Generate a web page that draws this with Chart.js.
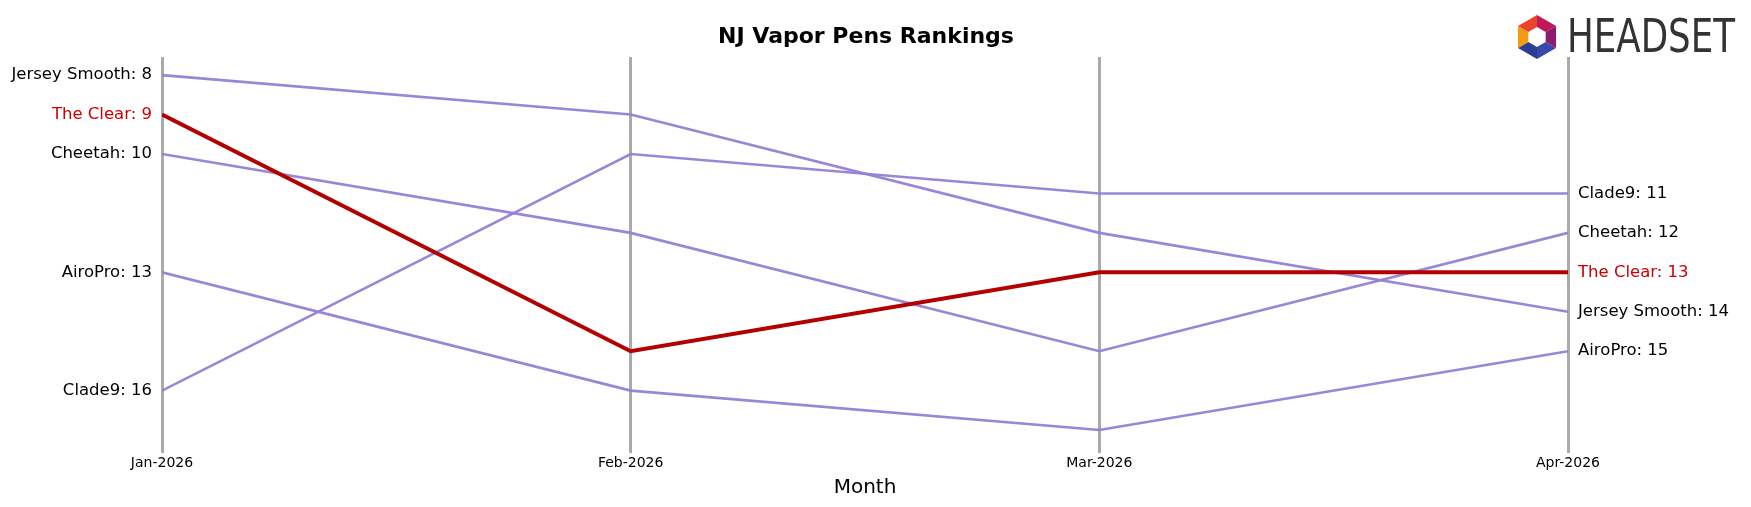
<!DOCTYPE html>
<html>
<head>
<meta charset="utf-8">
<script src="https://cdn.jsdelivr.net/npm/chart.js@4/dist/chart.umd.min.js"></script>
<style>
  html, body { margin: 0; padding: 0; background: #fff; }
  #wrap { width: 1751px; height: 507px; }
</style>
</head>
<body>
<div id="wrap"><canvas id="c" width="1751" height="507"></canvas></div>
<script>
// 月份与各品牌排名
const months = ['Jan-2026', 'Feb-2026', 'Mar-2026', 'Apr-2026'];
const brands = ['Jersey Smooth', 'The Clear', 'Cheetah', 'AiroPro', 'Clade9'];
const jerseySmooth = [8, 9, 12, 14];
const theClear = [9, 15, 13, 13];
const cheetah = [10, 12, 15, 12];
const airoPro = [13, 16, 17, 15];
const clade9 = [16, 10, 11, 11];
const rankSeries = [jerseySmooth, theClear, cheetah, airoPro, clade9];
const highlight = 'The Clear';

const PURPLE = 'rgba(147, 128, 214, 0.95)';
const RED = '#b30000';

const datasets = brands.map((name, i) => {
  const hi = name === highlight;
  return {
    label: name,
    data: rankSeries[i].map((v, j) => ({ x: j, y: v })),
    borderColor: hi ? RED : PURPLE,
    borderWidth: hi ? 4 : 2.6,
    pointRadius: 0,
    tension: 0,
    order: hi ? 0 : 1,
  };
});

// 两端的品牌标签、标题和 logo
const labelPlugin = {
  id: 'labels',
  afterDatasetsDraw(chart) {
    const { ctx, scales } = chart;
    const x = scales.x, y = scales.y;
    ctx.save();
    ctx.font = '16.5px "DejaVu Sans"';
    ctx.textBaseline = 'middle';
    brands.forEach((name, i) => {
      const s = rankSeries[i];
      ctx.fillStyle = name === highlight ? '#cc0000' : '#000';
      ctx.textAlign = 'right';
      ctx.fillText(`${name}: ${s[0]}`, x.getPixelForValue(0) - 10, y.getPixelForValue(s[0]));
      ctx.textAlign = 'left';
      ctx.fillText(`${name}: ${s[3]}`, x.getPixelForValue(3) + 10, y.getPixelForValue(s[3]));
    });
    // 标题
    ctx.fillStyle = '#000';
    ctx.font = 'bold 22px "DejaVu Sans"';
    ctx.textAlign = 'center';
    ctx.fillText('NJ Vapor Pens Rankings', 866, 37);
    // logo
    const cx = 1537, cy = 37;
    const cols = ['#c2185b', '#8e1b6b', '#3949ab', '#2c3e91', '#f39c12', '#e8452c'];
    for (let k = 0; k < 6; k++) {
      const a0 = (-90 + k * 60) * Math.PI / 180, a1 = (-30 + k * 60) * Math.PI / 180;
      ctx.beginPath();
      ctx.moveTo(cx + 22 * Math.cos(a0), cy + 22 * Math.sin(a0));
      ctx.lineTo(cx + 22 * Math.cos(a1), cy + 22 * Math.sin(a1));
      ctx.lineTo(cx + 10 * Math.cos(a1), cy + 10 * Math.sin(a1));
      ctx.lineTo(cx + 10 * Math.cos(a0), cy + 10 * Math.sin(a0));
      ctx.closePath();
      ctx.fillStyle = cols[k];
      ctx.fill();
    }
    ctx.fillStyle = '#333';
    ctx.font = '46px "DejaVu Sans Condensed"';
    ctx.textAlign = 'left';
    const w = ctx.measureText('HEADSET').width;
    ctx.translate(1567, 40);
    ctx.scale(168 / w, 1);
    ctx.fillText('HEADSET', 0, 0);
    ctx.restore();
  },
};

new Chart(document.getElementById('c').getContext('2d'), {
  type: 'line',
  data: { datasets },
  plugins: [labelPlugin],
  options: {
    responsive: false,
    animation: false,
    layout: { padding: { left: 162, right: 183, top: 57, bottom: 3 } },
    plugins: { legend: { display: false }, tooltip: { enabled: false } },
    scales: {
      x: {
        type: 'linear',
        min: 0,
        max: 3,
        afterFit: (s) => { s.height = 57; },
        border: { display: false },
        grid: { color: '#aaa', lineWidth: 3, drawTicks: true, tickLength: 6 },
        ticks: {
          stepSize: 1,
          color: '#000',
          font: { size: 14, family: 'DejaVu Sans' },
          padding: 2,
          callback: (v) => months[v],
        },
        title: {
          display: true,
          text: 'Month',
          color: '#000',
          font: { size: 20, family: 'DejaVu Sans' },
          padding: { top: 4 },
        },
      },
      y: {
        display: false,
        reverse: true,
        min: 7.54,
        max: 17.43,
      },
    },
  },
});
</script>
</body>
</html>
